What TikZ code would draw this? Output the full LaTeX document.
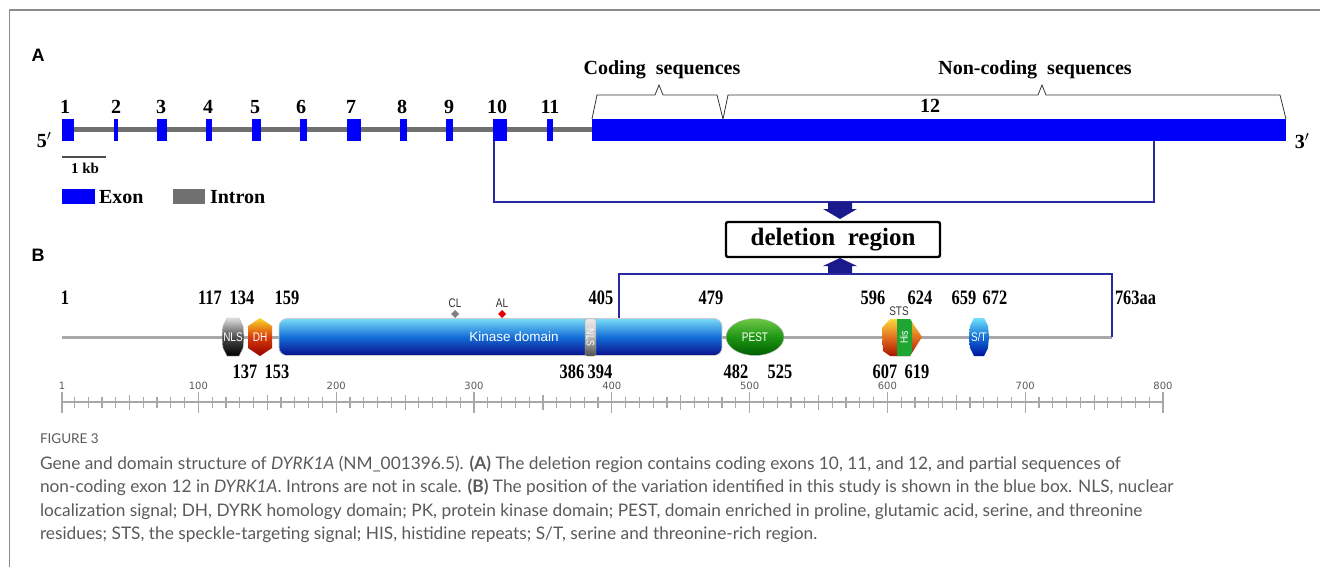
\documentclass[tikz,border=0pt]{standalone}
\usepackage{fontspec}
\setmainfont{Liberation Serif}
\setsansfont{Liberation Sans}
\newfontfamily\numfont[FakeStretch=0.8]{Liberation Serif}
\newfontfamily\condsans[FakeStretch=0.8]{Liberation Sans}
\newfontfamily\capfont{Lato}
\newfontfamily\rulerfont{DejaVu Sans}
\definecolor{exblue}{RGB}{0,0,250}
\definecolor{introngray}{RGB}{112,112,112}
\definecolor{navyln}{RGB}{40,40,160}
\definecolor{navyar}{RGB}{26,26,140}
\definecolor{protgray}{RGB}{168,168,168}
\definecolor{capgray}{RGB}{90,90,90}
\definecolor{framegray}{RGB}{140,140,140}
\begin{document}
\begin{tikzpicture}[x=1pt,y=-1pt,
  every node/.style={inner sep=0pt, outer sep=0pt},
  exon/.style={fill=exblue, draw=none, minimum height=22pt},
  exnum/.style={font=\bfseries\fontsize{20}{20}\selectfont, anchor=base},
  pnum/.style={font=\numfont\bfseries\fontsize{20.5}{20.5}\selectfont, anchor=base},
  conn/.style={draw=navyln, line width=1.4pt},
  arrowshape/.style={fill=navyar, draw=none},
  brace/.style={draw=black!80, line width=0.8pt, line join=miter},
  bigtxt/.style={font=\bfseries\fontsize{20}{20}\selectfont, anchor=base},
  domtxt/.style={font=\condsans\fontsize{12.5}{12.5}\selectfont, text=white},
  smalllab/.style={font=\condsans\fontsize{12.5}{12.5}\selectfont, text=black!80, anchor=base},
  tick/.style={draw=protgray, line width=1.2pt},
  rulerlab/.style={font=\rulerfont\fontsize{10}{10}\selectfont, text=black!65, anchor=base},
  captxt/.style={font=\capfont\fontsize{17.3}{17.3}\selectfont, text=capgray, anchor=base west},
  panel/.style={font=\sffamily\bfseries\fontsize{18}{18}\selectfont, anchor=base}
]
\useasboundingbox (0,0) rectangle (1320,567);
% frame
\draw[draw=framegray, line width=1.6pt] (9.5,567) -- (9.5,10) -- (1320,10);

% ---------------- Panel A ----------------
\node[panel] (pA) at (38,62) {A};
\draw[draw=introngray, line width=5pt] (62,130) -- (592,130);
\node[exon, minimum width=12pt] (e1) at (68,130) {};
\node[exon, minimum width=4.5pt] (e2) at (116,130) {};
\node[exon, minimum width=10pt] (e3) at (162,130) {};
\node[exon, minimum width=6pt] (e4) at (209,130) {};
\node[exon, minimum width=9pt] (e5) at (256.5,130) {};
\node[exon, minimum width=7pt] (e6) at (303.5,130) {};
\node[exon, minimum width=14pt] (e7) at (354,130) {};
\node[exon, minimum width=7pt] (e8) at (403.5,130) {};
\node[exon, minimum width=7pt] (e9) at (449.5,130) {};
\node[exon, minimum width=14pt] (e10) at (500,130) {};
\node[exon, minimum width=6pt] (e11) at (550,130) {};
\node[exon, minimum width=694pt] (e12) at (939,130) {};
\node[exnum] (n1) at (65,114) {1};
\node[exnum] (n2) at (116,114) {2};
\node[exnum] (n3) at (161,114) {3};
\node[exnum] (n4) at (208,114) {4};
\node[exnum] (n5) at (255,114) {5};
\node[exnum] (n6) at (301,114) {6};
\node[exnum] (n7) at (351,114) {7};
\node[exnum] (n8) at (402,114) {8};
\node[exnum] (n9) at (449,114) {9};
\node[exnum] (n10) at (497,114) {10};
\node[exnum] (n11) at (550,114) {11};
\node[exnum] (n12) at (930,113) {12};
\node[bigtxt] (p5) at (44,148) {5$'$};
\node[bigtxt] (p3) at (1302,149) {3$'$};
% braces
\draw[brace] (592,119) -- (597,95) -- (655,95) -- (659,85) -- (663,95) -- (717,95) -- (723,119)
  -- (728,95) -- (1038,95) -- (1042,85) -- (1046,95) -- (1280,95) -- (1286,119);
\node[bigtxt] (cod) at (662,75) {Coding\ \ sequences};
\node[bigtxt] (ncod) at (1035,75) {Non-coding\ \ sequences};
% scale bar & legend
\draw[draw=black!70, line width=1.6pt] (62,157) -- (106,157);
\node[font=\bfseries\fontsize{15}{15}\selectfont, anchor=base] (kb) at (85,174) {1 kb};
\node[fill=exblue, minimum width=33pt, minimum height=15pt] (legE) at (78.5,196.5) {};
\node[bigtxt, anchor=base west] (legEt) at (99,204) {Exon};
\node[fill=introngray, minimum width=32pt, minimum height=15pt] (legI) at (189,196.5) {};
\node[bigtxt, anchor=base west] (legIt) at (210,204) {Intron};

% deletion connector
\coordinate (dA) at (840,202);
\draw[conn] ([xshift=-6pt]e10.south) |- (dA) -| ([xshift=215pt]e12.south);
\fill[arrowshape] (828,202) -- (852,202) -- (852,209) -- (857,209) -- (840,219) -- (823,209) -- (828,209) -- cycle;
\node[draw=black, line width=2.4pt, rounded corners=2pt, minimum width=214pt, minimum height=35pt,
  font=\bfseries\fontsize{25}{25}\selectfont] (del) at (833,239.5) {deletion\ \ region};
\fill[arrowshape] (828,274) -- (852,274) -- (852,266) -- (857,266) -- (840,258) -- (823,266) -- (828,266) -- cycle;

% ---------------- Panel B ----------------
\node[panel] (pB) at (38,261) {B};
\coordinate (pstart) at (62,337);
\coordinate (pend) at (1112,337);
\coordinate (kinTop) at (619,319);
\coordinate (dB) at (840,274);
\draw[draw=protgray, line width=3pt] (pstart) -- (pend);
\draw[conn] (kinTop) |- (dB) -| (pend);

% NLS 1
\shade[top color=gray!25, bottom color=black, middle color=gray!60!black, draw=gray!60]
  (227,318) -- (239,318) -- (243,326) -- (244,337) -- (243,348) -- (239,356) -- (227,356) -- (223,348) -- (222,337) -- (223,326) -- cycle;
\node[domtxt] (nls1) at (233,337) {NLS};
% DH
\shade[top color={rgb,255:red,250;green,215;blue,40}, bottom color={rgb,255:red,150;green,0;blue,0}, middle color={rgb,255:red,215;green,60;blue,10}]
  (260,318) -- (272,326) -- (272,348) -- (260,356) -- (248,348) -- (248,326) -- cycle;
\node[domtxt] (dh) at (260,337) {DH};
% Kinase domain
\node[draw=gray!40, line width=0.6pt, rounded corners=8pt, minimum width=443pt, minimum height=37pt,
  top color={rgb,255:red,120;green,220;blue,248}, bottom color={rgb,255:red,10;green,15;blue,140},
  middle color={rgb,255:red,20;green,110;blue,215}] (kin) at (500.5,337) {};
\node[font=\sffamily\fontsize{13.5}{13.5}\selectfont, text=white] (kint) at (514,337) {Kinase\ domain};
% NLS 2
\shade[top color=gray!15, bottom color=gray!60!black, middle color=gray!55, draw=gray!70, rounded corners=2pt]
  (585,319) rectangle (596,356);
\node[domtxt, rotate=-90, font=\condsans\fontsize{11}{11}\selectfont] (nls2) at (590.5,337.5) {NLS};
% CL / AL
\fill[gray] (455,310) -- (459,314) -- (455,318) -- (451,314) -- cycle;
\node[smalllab] (cl) at (455,307) {CL};
\fill[red!90!black] (502,310) -- (506,314) -- (502,318) -- (498,314) -- cycle;
\node[smalllab] (al) at (502,307) {AL};
% PEST
\shade[top color={rgb,255:red,110;green,200;blue,70}, bottom color={rgb,255:red,0;green,95;blue,0}, middle color={rgb,255:red,30;green,150;blue,20}, draw=gray!50]
  (755,337) ellipse [x radius=29, y radius=18.5];
\node[domtxt] (pest) at (755,337) {PEST};
% STS / His
\shade[top color={rgb,255:red,250;green,215;blue,60}, bottom color={rgb,255:red,170;green,20;blue,0}, middle color={rgb,255:red,225;green,110;blue,30}]
  (882,328) -- (890,319) -- (910,319) -- (922,337) -- (910,356) -- (890,356) -- (883,351) -- cycle;
\fill[fill={rgb,255:red,30;green,165;blue,50}] (897,319) -- (910,319) -- (912,322) -- (912,352) -- (910,356) -- (897,356) -- cycle;
\node[domtxt, rotate=90, font=\condsans\fontsize{11}{11}\selectfont] (his) at (904,337.5) {His};
\node[smalllab] (sts) at (899,315) {STS};
% S/T
\shade[top color={rgb,255:red,110;green,225;blue,250}, bottom color={rgb,255:red,0;green,20;blue,160}, middle color={rgb,255:red,20;green,110;blue,215}]
  (974,318) -- (984,318) -- (988,326) -- (989,337) -- (988,348) -- (984,356) -- (974,356) -- (970,348) -- (969,337) -- (970,326) -- cycle;
\node[domtxt] (st) at (979,337) {S/T};

% positions above
\node[pnum] (a1) at (65,304) {1};
\node[pnum] (a117) at (210,304) {117};
\node[pnum] (a134) at (242,304) {134};
\node[pnum] (a159) at (287,304) {159};
\node[pnum] (a405) at (601,304) {405};
\node[pnum] (a479) at (711,304) {479};
\node[pnum] (a596) at (873,304) {596};
\node[pnum] (a624) at (920,304) {624};
\node[pnum] (a659) at (964,304) {659};
\node[pnum] (a672) at (995,304) {672};
\node[pnum, anchor=base west] (a763) at (1115,304) {763aa};
% positions below
\node[pnum] (b137) at (245,378) {137};
\node[pnum] (b153) at (277,378) {153};
\node[pnum] (b386) at (572,378) {386};
\node[pnum] (b394) at (600,378) {394};
\node[pnum] (b482) at (736,378) {482};
\node[pnum] (b525) at (780,378) {525};
\node[pnum] (b607) at (885,378) {607};
\node[pnum] (b619) at (917,378) {619};

% ruler
\draw[draw=protgray, line width=2.5pt] (62,402) -- (1163,402);
\foreach \n in {10,20,...,790} \draw[tick] ({60.6+1.378*\n},397) -- ++(0,11);
\foreach \n in {50,150,...,750} \draw[tick] ({60.6+1.378*\n},395) -- ++(0,15);
\draw[tick] (62,392) -- ++(0,21);
\foreach \n in {100,200,...,800} \draw[tick] ({60.6+1.378*\n},392) -- ++(0,21);
\node[rulerlab] (r1) at (62,389) {1};
\foreach \n in {100,200,...,800} \node[rulerlab] (r\n) at ({60.6+1.378*\n},389) {\n};

% caption
\node[font=\capfont\fontsize{13.5}{13.5}\selectfont, text=capgray, anchor=base west] (fig) at (40,443) {FIGURE 3};
\node[captxt] (c1) at (40,469) {Gene and domain structure of \textit{DYRK1A} (NM\_001396.5). \textbf{(A)} The deletion region contains coding exons 10, 11, and 12, and partial sequences of};
\node[captxt] (c2) at (40,492.5) {non-coding exon 12 in \textit{DYRK1A}. Introns are not in scale. \textbf{(B)} The position of the variation identified in this study is shown in the blue box. NLS, nuclear};
\node[captxt] (c3) at (40,516) {localization signal; DH, DYRK homology domain; PK, protein kinase domain; PEST, domain enriched in proline, glutamic acid, serine, and threonine};
\node[captxt] (c4) at (40,539.5) {residues; STS, the speckle-targeting signal; HIS, histidine repeats; S/T, serine and threonine-rich region.};
\end{tikzpicture}
\end{document}
